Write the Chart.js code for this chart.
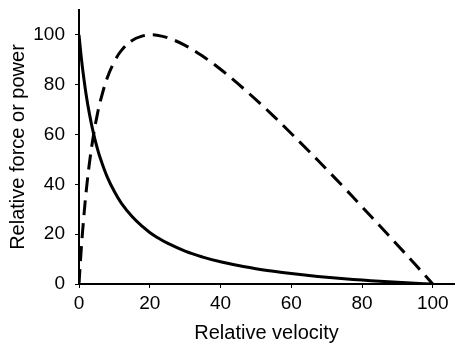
<!DOCTYPE html>
<html>
<head>
<meta charset="utf-8">
<script src="https://cdn.jsdelivr.net/npm/chart.js@4/dist/chart.umd.min.js"></script>
<style>
  html, body { margin: 0; padding: 0; background: #fff; }
  #wrap { width: 455px; height: 347px; }
</style>
</head>
<body>
<div id="wrap"><canvas id="fvChart" width="455" height="347"></canvas></div>
<script>
// values
const velocity = [0, 0.5, 1, 2, 3, 4, 5, 6, 8, 10, 12, 15, 18, 20, 22, 25, 30, 35, 40, 45, 50, 55, 60, 65, 70, 75, 80, 85, 90, 95, 100];
const force = [100, 92.9, 86.6, 76.2, 67.9, 61.1, 55.4, 50.6, 42.9, 37.1, 32.4, 27.1, 23.0, 20.7, 18.8, 16.4, 13.2, 10.8, 8.9, 7.4, 6.1, 5.1, 4.2, 3.4, 2.7, 2.1, 1.6, 1.1, 0.7, 0.3, 0];
const power = [0, 11.2, 20.9, 36.8, 49.1, 58.9, 66.8, 73.2, 82.8, 89.3, 93.8, 97.8, 99.6, 100, 99.9, 98.9, 95.8, 91.4, 86.2, 80.3, 74.0, 67.4, 60.4, 53.3, 46.0, 38.6, 31.0, 23.4, 15.7, 7.9, 0];
const tickValues = [0, 20, 40, 60, 80, 100];

const ctx = document.getElementById('fvChart').getContext('2d');
const tickFont = { family: '"Liberation Sans", Arial, sans-serif', size: 19 };
const titleFont = { family: '"Liberation Sans", Arial, sans-serif', size: 20 };

const toPoints = ys => velocity.map((v, i) => ({ x: v, y: ys[i] }));
const keepTicks = scale => { scale.ticks = tickValues.map(v => ({ value: v })); };

new Chart(ctx, {
    type: 'line',
    data: {
        datasets: [
            {
                label: 'Force',
                data: toPoints(force),
                borderColor: '#000',
                borderWidth: 3,
                pointRadius: 0,
                tension: 0.4
            },
            {
                label: 'Power',
                data: toPoints(power),
                borderColor: '#000',
                borderWidth: 3,
                borderDash: [15, 8],
                pointRadius: 0,
                tension: 0.4
            }
        ]
    },
    options: {
        responsive: false,
        animation: false,
        layout: { padding: { top: 10, right: 1, left: 0, bottom: 0 } },
        plugins: { legend: { display: false }, tooltip: { enabled: false } },
        scales: {
            x: {
                type: 'linear', min: 0, max: 106,
                afterBuildTicks: keepTicks,
                afterFit: s => { s.height = 63; s.paddingLeft = 0; s.paddingRight = 0; },
                border: { color: '#000', width: 2 },
                grid: { drawOnChartArea: false, color: '#000', tickLength: 4 },
                ticks: { color: '#000', font: tickFont, padding: 4, maxRotation: 0 },
                title: { display: true, text: 'Relative velocity', color: '#000', font: titleFont, padding: { top: 8, bottom: 2 } }
            },
            y: {
                min: 0, max: 110,
                afterBuildTicks: keepTicks,
                afterFit: s => { s.width = 79; s.paddingTop = 0; s.paddingBottom = 0; },
                border: { color: '#000', width: 2 },
                grid: { drawOnChartArea: false, color: '#000', tickLength: 4 },
                ticks: { color: '#000', font: tickFont, padding: 10 },
                title: { display: true, text: 'Relative force or power', color: '#000', font: titleFont, padding: { top: 6, bottom: 4 } }
            }
        }
    }
});
</script>
</body>
</html>
